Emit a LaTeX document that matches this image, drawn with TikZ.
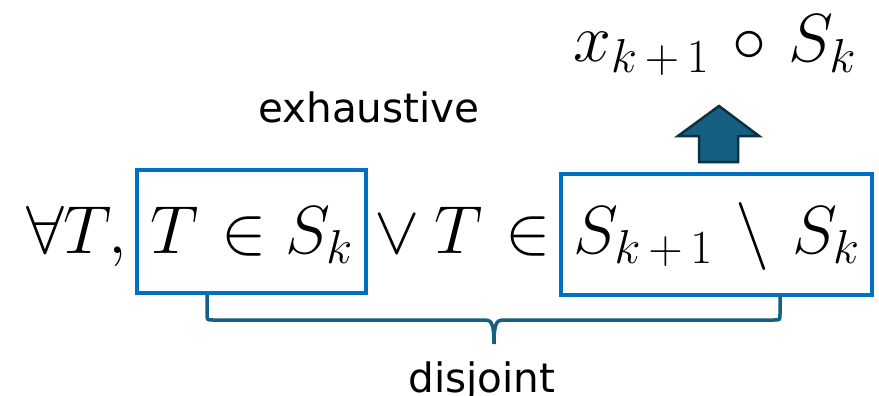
\RequirePackage{fix-cm}
\documentclass[tikz,border=0pt]{standalone}
\usepackage{fontspec}
\setsansfont{DejaVu Sans}
\usepackage{tikz}
\usetikzlibrary{positioning}
\definecolor{boxblue}{HTML}{0070C0}
\definecolor{bracecol}{HTML}{156082}
\definecolor{arrowline}{HTML}{0A3041}
\newcommand{\splus}{\mkern3mu+\mkern3mu}
\tikzset{mathtext/.style={font=\fontsize{68}{80}\selectfont, inner sep=0pt}}
\tikzset{wordtext/.style={font=\sffamily\fontsize{40.5}{48}\selectfont, inner sep=0pt}}
\tikzset{selbox/.style={draw=boxblue, line width=3.5pt, inner sep=0pt, align=center}}
\tikzset{bracepath/.style={draw=bracecol, line width=3.5pt}}
\tikzset{upblock/.style={fill=bracecol, draw=arrowline, line width=2.5pt, line join=miter}}

\begin{document}
\begin{tikzpicture}[x=1pt, y=-1pt]
  \useasboundingbox (0,0) rectangle (879,396);
  % composed term and block arrow
  \node[mathtext, anchor=base west] (comp) at (573,62) {$x_{k\splus1}\mkern2mu\circ\mkern2mu S_k$};
  \draw[upblock] (719,106) -- (759,136) -- (738,136) -- (738,162)
    -- (699,162) -- (699,136) -- (678,136) -- cycle;
  \node[wordtext, anchor=base west] (exh) at (258,122) {exhaustive};
  % the statement
  \node[mathtext, anchor=base west] (forall) at (26,253) {$\forall T,$};
  \node[mathtext, selbox, anchor=base, text height=83pt, text depth=40pt,
    minimum width=229pt] (lbox) at (251.5,253) {$T\mkern1mu\in S_k$};
  \node[mathtext, anchor=base west] (mid) at (359,253) {${}\lor T\mkern1mu\in{}$};
  \node[mathtext, selbox, anchor=base, text height=79pt, text depth=42pt,
    minimum width=311pt] (rbox) at (716.5,253) {$S_{k\splus1}\mkern2mu\setminus\mkern2mu S_k$};
  % brace
  \coordinate (bl) at (207,295);
  \coordinate (br) at (780,296);
  \coordinate (tip) at (494,344);
  \draw[bracepath] (bl) -- (207,314) .. controls (207,320) .. (213,320)
    -- (486,320) .. controls (492,320) and (494,326) .. (tip)
    .. controls (494,326) and (496,320) .. (502,320)
    -- (774,320) .. controls (780,320) .. (780,314) -- (br);
  \node[wordtext, anchor=base] (dis) at (482,392) {disjoint};
\end{tikzpicture}
\end{document}
